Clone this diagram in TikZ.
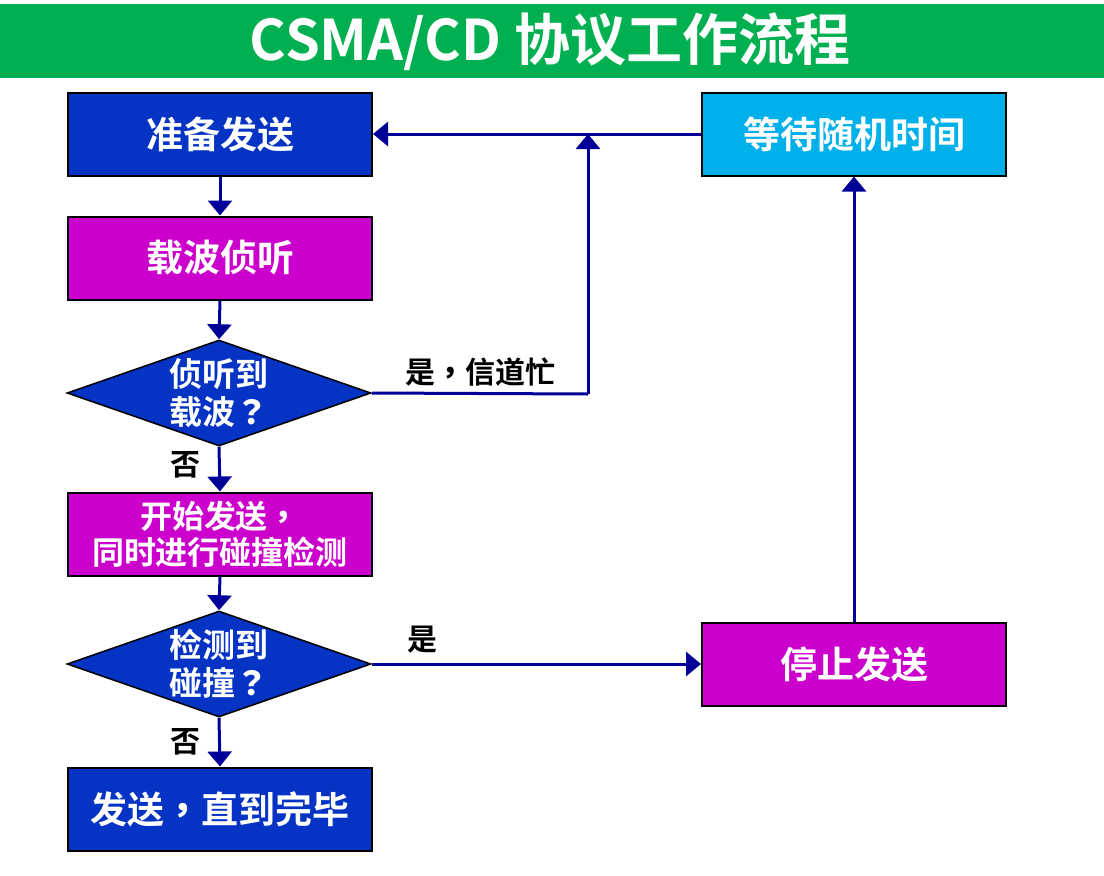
\documentclass[tikz,border=0pt]{standalone}
\usepackage{fontspec}
\setmainfont{Noto Sans CJK SC}[BoldFont={Noto Sans CJK SC Bold}]
\newfontfamily\tcp{Noto Sans CJK TC Bold}
\newcommand{\qq}{{\tcp ？}}
\newcommand{\cm}{{\tcp ，}}
\usetikzlibrary{arrows.meta,shapes.geometric}
\definecolor{tgreen}{HTML}{00B050}
\definecolor{dblue}{HTML}{0533C4}
\definecolor{mag}{HTML}{CC00CC}
\definecolor{lblue}{HTML}{00B0EA}
\definecolor{navy}{HTML}{000099}
\tikzset{
  box/.style={draw=black,line width=2pt,minimum width=304pt,minimum height=83pt,inner sep=0pt,
    text=white,font=\bfseries\fontsize{37}{42}\selectfont,align=center},
  dia/.style={draw=black,line width=1.5pt,diamond,fill=dblue,minimum width=304pt,minimum height=106pt,inner sep=0pt},
  diatext/.style={text=white,font=\bfseries\fontsize{33}{38}\selectfont,align=center},
  conn/.style={draw=navy,line width=3pt,-{Triangle[length=15pt,width=24pt]}},
  plain/.style={draw=navy,line width=3pt},
  lbl/.style={text=black,font=\bfseries\fontsize{30}{34}\selectfont}
}
\begin{document}
\begin{tikzpicture}[x=1pt,y=-1pt]
\useasboundingbox (0,0) rectangle (1104,876);
\fill[white] (0,0) rectangle (1104,876);
\fill[tgreen] (0,4) rectangle (1104,78);
\node[text=white,font=\bfseries\fontsize{56}{60}\selectfont] (title) at (550,42) {CSMA/CD 协议工作流程};
\node[box,fill=dblue] (prep) at (220,134) {准备发送};
\node[box,fill=lblue] (wait) at (854,134) {等待随机时间};
\node[box,fill=mag] (listen) at (220,258) {载波侦听};
\node[dia,label={[diatext]center:{侦听到\\载波\qq}}] (d1) at (219,393) {};
\node[box,fill=mag,font=\bfseries\fontsize{32}{36}\selectfont] (start) at (220,534) {开始发送\cm\\同时进行碰撞检测};
\node[dia,label={[diatext]center:{检测到\\碰撞\qq}}] (d2) at (219,664) {};
\node[box,fill=dblue] (done) at (220,809) {发送\cm 直到完毕};
\node[box,fill=mag] (stop) at (854,664) {停止发送};
\coordinate (j) at (588,134);
\coordinate (c1) at (588,394);
\draw[conn] (prep.south) -- (listen.north);
\draw[conn] (listen.south) -- (d1.north);
\draw[conn] (d1.south) -- (start.north);
\draw[conn] (start.south) -- (d2.north);
\draw[conn] (d2.south) -- (done.north);
\draw[conn] (d2.east) -- (stop.west);
\draw[conn] (stop.north) -- (wait.south);
\draw[conn] (wait.west) -- (prep.east);
\draw[plain] (d1.east) -- (c1);
\draw[conn] (c1) -- (j);
\node[lbl] (l1) at (480,372) {是\cm 信道忙};
\node[lbl] (l2) at (185,465) {否};
\node[lbl] (l3) at (422,640) {是};
\node[lbl] (l4) at (185,742) {否};
\end{tikzpicture}
\end{document}
